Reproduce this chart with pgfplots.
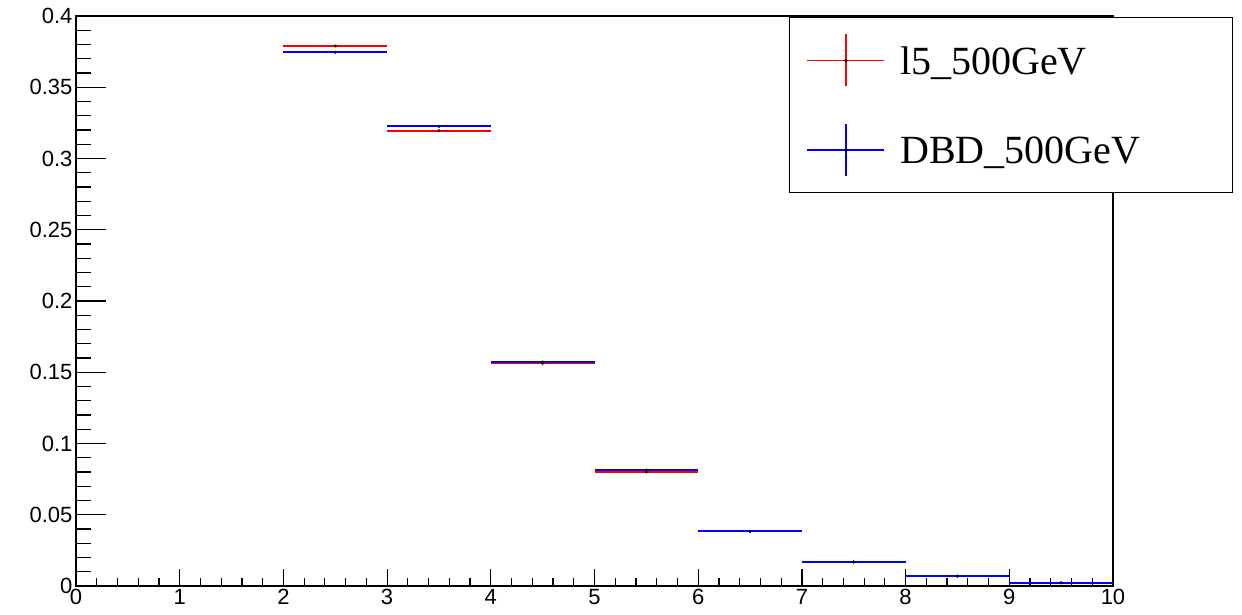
\documentclass[border=0pt]{standalone}
\usepackage{fontspec}
\setmainfont{Liberation Serif}
\newfontfamily\sansf{Liberation Sans}
\usepackage{pgfplots}
\usepackage{pgfplotstable}
\pgfplotsset{compat=1.18}
\pgfplotstableread{
x y ex
2.5 0.379 0.5
3.5 0.3195 0.5
4.5 0.1562 0.5
5.5 0.0800 0.5
6.5 0.0383 0.5
7.5 0.0168 0.5
8.5 0.0068 0.5
9.5 0.0022 0.5
}\redtab
\pgfplotstableread{
x y ex
2.5 0.3745 0.5
3.5 0.3225 0.5
4.5 0.1572 0.5
5.5 0.0813 0.5
6.5 0.0385 0.5
7.5 0.0168 0.5
8.5 0.0070 0.5
9.5 0.0022 0.5
}\bluetab
\begin{document}
\begin{tikzpicture}
\path (0pt,0pt) rectangle (1242pt,614pt);
\begin{axis}[
 at={(76pt,28pt)}, anchor=south west,
 scale only axis, width=1037pt, height=570pt,
 xmin=0, xmax=10, ymin=0, ymax=0.4,
 xtick={0,1,2,3,4,5,6,7,8,9,10},
 ytick={0,0.05,0.1,0.15,0.2,0.25,0.3,0.35,0.4},
 minor x tick num=4, minor y tick num=4,
 tick align=inside, xtick pos=left, ytick pos=left,
 axis line style={line width=1.2pt},
 every tick/.style={black, line width=1.2pt},
 major tick length=30pt, minor tick length=15pt,
 x tick style={/pgfplots/major tick length=17pt, /pgfplots/minor tick length=8pt},
 ticklabel style={font=\sansf\fontsize{22}{22}\selectfont},
 /pgf/number format/assume math mode=true,
 yticklabel style={/pgf/number format/fixed, /pgf/number format/precision=2},
 legend image code/.code={\draw[#1] (0pt,0pt)--(77pt,0pt); \draw[#1] (38.5pt,-26pt)--(38.5pt,26pt); \fill[black] (38.5pt,0pt) circle (1pt);},
 legend style={at={(0.6876,0.998)}, anchor=north west, draw=black, line width=1.2pt, fill=white,
   inner xsep=17pt, inner ysep=16pt, row sep=36pt, column sep=15pt,
   font=\fontsize{40}{40}\selectfont, nodes={inner sep=0pt, text depth=0pt}},
 legend cell align=left,
]
\addlegendimage{red, line width=1.5pt}
\addlegendentry{\makebox[315pt][l]{l5\_500GeV}}
\addlegendimage{blue, line width=1.5pt}
\addlegendentry{\makebox[315pt][l]{DBD\_500GeV}}
\addplot[forget plot, red, only marks, mark=*, mark size=1.3pt, mark options={black},
  error bars/.cd, x dir=both, x explicit, error mark=none, error bar style={red, line width=2pt}]
  table[x=x, y=y, x error=ex] {\redtab};
\addplot[forget plot, blue, only marks, mark=*, mark size=1.3pt, mark options={black},
  error bars/.cd, x dir=both, x explicit, error mark=none, error bar style={blue, line width=2pt}]
  table[x=x, y=y, x error=ex] {\bluetab};
\end{axis}
\end{tikzpicture}
\end{document}
